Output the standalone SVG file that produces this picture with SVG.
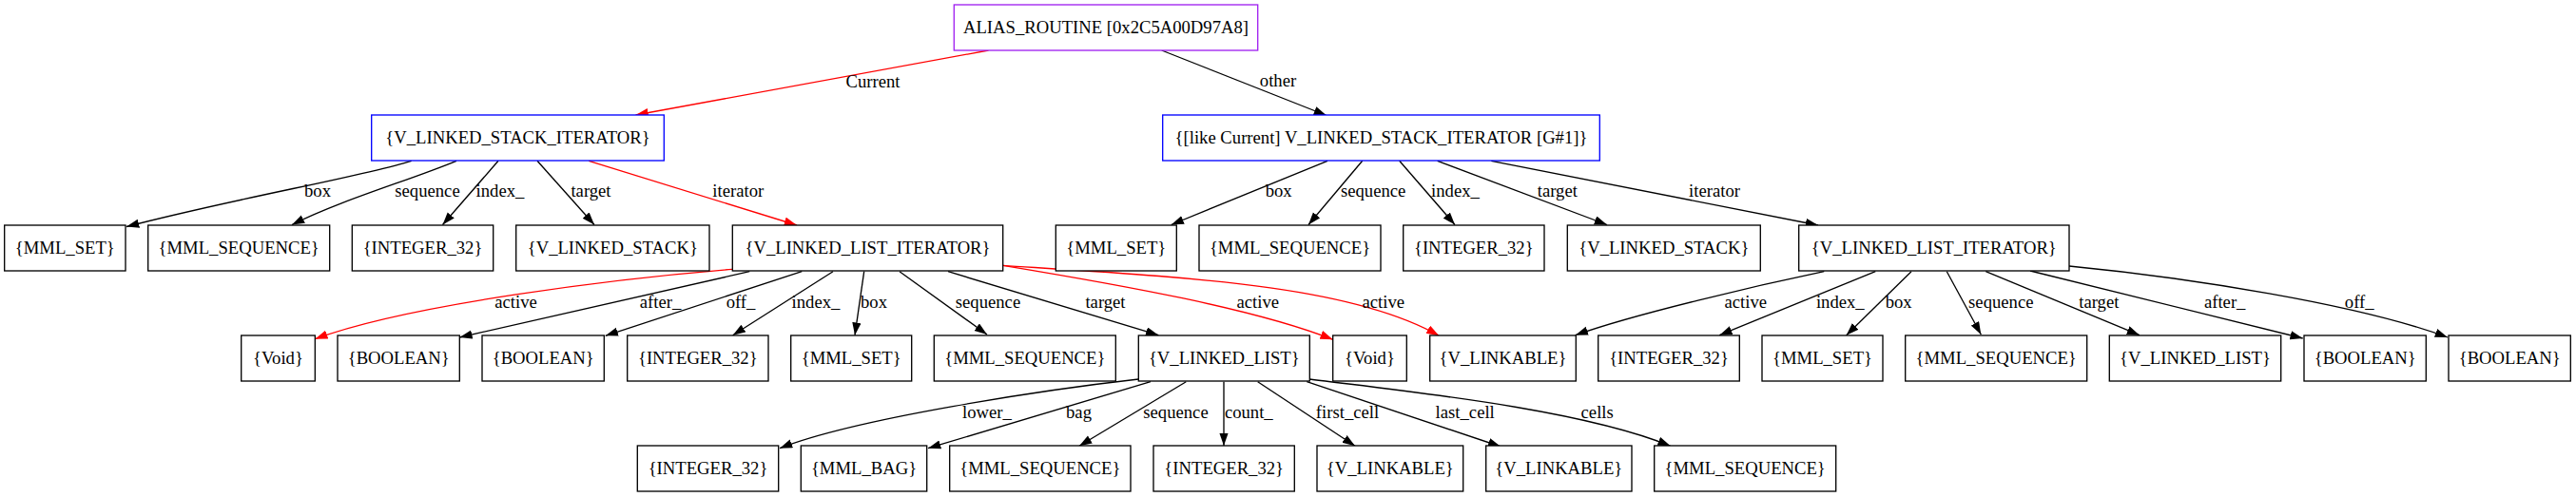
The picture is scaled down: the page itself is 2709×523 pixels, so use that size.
<svg xmlns="http://www.w3.org/2000/svg" width="2709" height="523" viewBox="0 0 2709 523">
<style>
text{font-family:"Liberation Serif","Times New Roman",serif;font-size:18.67px;fill:#000;text-anchor:middle}
.n rect{fill:#fff;stroke:#000;stroke-width:1.33}
.n.blue rect{stroke:#0000ff}
.n.purple rect{stroke:#a020f0}
.e path{fill:none;stroke:#000;stroke-width:1.33;marker-end:url(#ab)}
.e path.r{stroke:#ff0000;marker-end:url(#ar)}
</style>
<defs>
<marker id="ab" markerUnits="userSpaceOnUse" markerWidth="14" markerHeight="10" refX="13.3" refY="4.67" orient="auto" viewBox="0 0 14 10"><path d="M0,0 L13.3,4.67 L0,9.33 z" fill="#000"/></marker>
<marker id="ar" markerUnits="userSpaceOnUse" markerWidth="14" markerHeight="10" refX="13.3" refY="4.67" orient="auto" viewBox="0 0 14 10"><path d="M0,0 L13.3,4.67 L0,9.33 z" fill="#ff0000"/></marker>
</defs>
<rect width="2709" height="523" fill="#fff"/>
<g id="edges" class="e">
<path class="r" d="M1039.5,53 L668.5,121"/>
<path d="M1221.7,53 L1395,121.5"/>
<path d="M432.7,169.3 C380,186 250,208 133,238.5"/>
<path d="M480,169.3 C430,190 360,210 307,236.5"/>
<path d="M524,169.3 L465.5,236.5"/>
<path d="M565,169.3 L625,236.5"/>
<path class="r" d="M619.3,169.3 L838,237"/>
<path d="M1396,169.3 L1231.7,236.5"/>
<path d="M1432.7,169.3 L1376,236.5"/>
<path d="M1471.7,169.3 L1530,236.5"/>
<path d="M1511.7,169.3 L1690,236.5"/>
<path d="M1568.3,169.3 L1912,237"/>
<path class="r" d="M770.3,283.3 C650,293 430,320 331.3,356.7"/>
<path d="M788.3,285.7 L483.3,355"/>
<path d="M843.3,285.7 L636.7,353.3"/>
<path d="M876,285.7 L770.7,352.7"/>
<path d="M908.7,285.7 L899,352.7"/>
<path d="M946,285.7 L1038,352"/>
<path d="M997,285.7 L1218.3,352.7"/>
<path class="r" d="M1054.7,279.3 C1180,300 1320,325 1401.7,357.3"/>
<path class="r" d="M1054.7,279.3 C1250,292 1420,300 1513.3,353.3"/>
<path d="M1918.3,285.7 C1850,300 1720,330 1656.7,352.7"/>
<path d="M1972.3,285.7 L1808.3,352.7"/>
<path d="M2010,285.7 L1941.7,352.7"/>
<path d="M2047.3,285.7 L2083.3,352"/>
<path d="M2088.3,285.7 L2250,352.7"/>
<path d="M2135,285 L2421.7,356"/>
<path d="M2176,280 C2300,292 2480,320 2574,355"/>
<path d="M1197.3,399 C1100,410 900,440 820,471.7"/>
<path d="M1210,401.7 L976,471.7"/>
<path d="M1247.3,401.7 L1135,469.3"/>
<path d="M1287,401.7 L1287,469"/>
<path d="M1322.7,401.7 L1425,469.3"/>
<path d="M1374.3,401.7 L1578.3,470"/>
<path d="M1377.3,399 C1480,412 1660,430 1756.7,469.3"/>
<g id="edge-labels">
<text x="918" y="91.5">Current</text>
<text x="1344" y="91">other</text>
<text x="334" y="207.3">box</text>
<text x="449.5" y="207.3">sequence</text>
<text x="526" y="207.3">index_</text>
<text x="621.5" y="207.3">target</text>
<text x="776.3" y="207.3">iterator</text>
<text x="1344.7" y="207.3">box</text>
<text x="1444.2" y="207.3">sequence</text>
<text x="1530.5" y="207.3">index_</text>
<text x="1637.8" y="207.3">target</text>
<text x="1803" y="207.3">iterator</text>
<text x="542.5" y="324">active</text>
<text x="694.5" y="324">after_</text>
<text x="779" y="324">off_</text>
<text x="858" y="324">index_</text>
<text x="919" y="324">box</text>
<text x="1039" y="324">sequence</text>
<text x="1162.5" y="324">target</text>
<text x="1322.8" y="324">active</text>
<text x="1454.8" y="324">active</text>
<text x="1835.8" y="324">active</text>
<text x="1935.3" y="324">index_</text>
<text x="1996.7" y="324">box</text>
<text x="2104.3" y="324">sequence</text>
<text x="2207.3" y="324">target</text>
<text x="2339.7" y="324">after_</text>
<text x="2481.2" y="324">off_</text>
<text x="1038" y="440">lower_</text>
<text x="1134.5" y="440">bag</text>
<text x="1236.5" y="440">sequence</text>
<text x="1313.3" y="440">count_</text>
<text x="1417" y="440">first_cell</text>
<text x="1540.7" y="440">last_cell</text>
<text x="1679.7" y="440">cells</text>
</g>
</g>
<g id="n0" class="n purple"><rect x="1003.3" y="5" width="319.4" height="48"/><text x="1163" y="34.7">ALIAS_ROUTINE [0x2C5A00D97A8]</text></g>
<g id="n1" class="n blue"><rect x="390.7" y="121" width="307.6" height="48"/><text x="544.5" y="150.7">{V_LINKED_STACK_ITERATOR}</text></g>
<g id="n2" class="n blue"><rect x="1222.7" y="121" width="459.6" height="48"/><text x="1452.5" y="150.7">{[like Current] V_LINKED_STACK_ITERATOR [G#1]}</text></g>
<g id="n3" class="n"><rect x="4.7" y="237" width="127.3" height="48"/><text x="68.3" y="266.7">{MML_SET}</text></g>
<g id="n4" class="n"><rect x="155.7" y="237" width="191" height="48"/><text x="251.2" y="266.7">{MML_SEQUENCE}</text></g>
<g id="n5" class="n"><rect x="370.3" y="237" width="148.4" height="48"/><text x="444.5" y="266.7">{INTEGER_32}</text></g>
<g id="n6" class="n"><rect x="542.7" y="237" width="203.3" height="48"/><text x="644.3" y="266.7">{V_LINKED_STACK}</text></g>
<g id="n7" class="n"><rect x="770.3" y="237" width="284.4" height="48"/><text x="912.5" y="266.7">{V_LINKED_LIST_ITERATOR}</text></g>
<g id="n8" class="n"><rect x="1110.3" y="237" width="127" height="48"/><text x="1173.8" y="266.7">{MML_SET}</text></g>
<g id="n9" class="n"><rect x="1261" y="237" width="191" height="48"/><text x="1356.5" y="266.7">{MML_SEQUENCE}</text></g>
<g id="n10" class="n"><rect x="1475.7" y="237" width="148.3" height="48"/><text x="1549.8" y="266.7">{INTEGER_32}</text></g>
<g id="n11" class="n"><rect x="1648.3" y="237" width="203" height="48"/><text x="1749.8" y="266.7">{V_LINKED_STACK}</text></g>
<g id="n12" class="n"><rect x="1891.7" y="237" width="284.3" height="48"/><text x="2033.8" y="266.7">{V_LINKED_LIST_ITERATOR}</text></g>
<g id="n13" class="n"><rect x="253.7" y="353" width="77.6" height="48"/><text x="292.5" y="382.7">{Void}</text></g>
<g id="n14" class="n"><rect x="355" y="353" width="128.3" height="48"/><text x="419.2" y="382.7">{BOOLEAN}</text></g>
<g id="n15" class="n"><rect x="507" y="353" width="128.3" height="48"/><text x="571.2" y="382.7">{BOOLEAN}</text></g>
<g id="n16" class="n"><rect x="659.7" y="353" width="148.3" height="48"/><text x="733.8" y="382.7">{INTEGER_32}</text></g>
<g id="n17" class="n"><rect x="831.7" y="353" width="127" height="48"/><text x="895.2" y="382.7">{MML_SET}</text></g>
<g id="n18" class="n"><rect x="982.3" y="353" width="191" height="48"/><text x="1077.8" y="382.7">{MML_SEQUENCE}</text></g>
<g id="n19" class="n"><rect x="1197.3" y="353" width="180" height="48"/><text x="1287.3" y="382.7">{V_LINKED_LIST}</text></g>
<g id="n20" class="n"><rect x="1401.7" y="353" width="77.6" height="48"/><text x="1440.5" y="382.7">{Void}</text></g>
<g id="n21" class="n"><rect x="1503.7" y="353" width="153.6" height="48"/><text x="1580.5" y="382.7">{V_LINKABLE}</text></g>
<g id="n22" class="n"><rect x="1680.7" y="353" width="148.6" height="48"/><text x="1755" y="382.7">{INTEGER_32}</text></g>
<g id="n23" class="n"><rect x="1853" y="353" width="127" height="48"/><text x="1916.5" y="382.7">{MML_SET}</text></g>
<g id="n24" class="n"><rect x="2003.7" y="353" width="191" height="48"/><text x="2099.2" y="382.7">{MML_SEQUENCE}</text></g>
<g id="n25" class="n"><rect x="2218.3" y="353" width="180.4" height="48"/><text x="2308.5" y="382.7">{V_LINKED_LIST}</text></g>
<g id="n26" class="n"><rect x="2423" y="353" width="128.3" height="48"/><text x="2487.2" y="382.7">{BOOLEAN}</text></g>
<g id="n27" class="n"><rect x="2575" y="353" width="128.3" height="48"/><text x="2639.2" y="382.7">{BOOLEAN}</text></g>
<g id="n28" class="n"><rect x="670.3" y="469" width="148.4" height="48"/><text x="744.5" y="498.7">{INTEGER_32}</text></g>
<g id="n29" class="n"><rect x="842.3" y="469" width="132.4" height="48"/><text x="908.5" y="498.7">{MML_BAG}</text></g>
<g id="n30" class="n"><rect x="998.7" y="469" width="190.3" height="48"/><text x="1093.8" y="498.7">{MML_SEQUENCE}</text></g>
<g id="n31" class="n"><rect x="1213" y="469" width="148.3" height="48"/><text x="1287.2" y="498.7">{INTEGER_32}</text></g>
<g id="n32" class="n"><rect x="1385" y="469" width="153.7" height="48"/><text x="1461.8" y="498.7">{V_LINKABLE}</text></g>
<g id="n33" class="n"><rect x="1562.7" y="469" width="153.3" height="48"/><text x="1639.3" y="498.7">{V_LINKABLE}</text></g>
<g id="n34" class="n"><rect x="1739.7" y="469" width="191" height="48"/><text x="1835.2" y="498.7">{MML_SEQUENCE}</text></g>
</svg>
